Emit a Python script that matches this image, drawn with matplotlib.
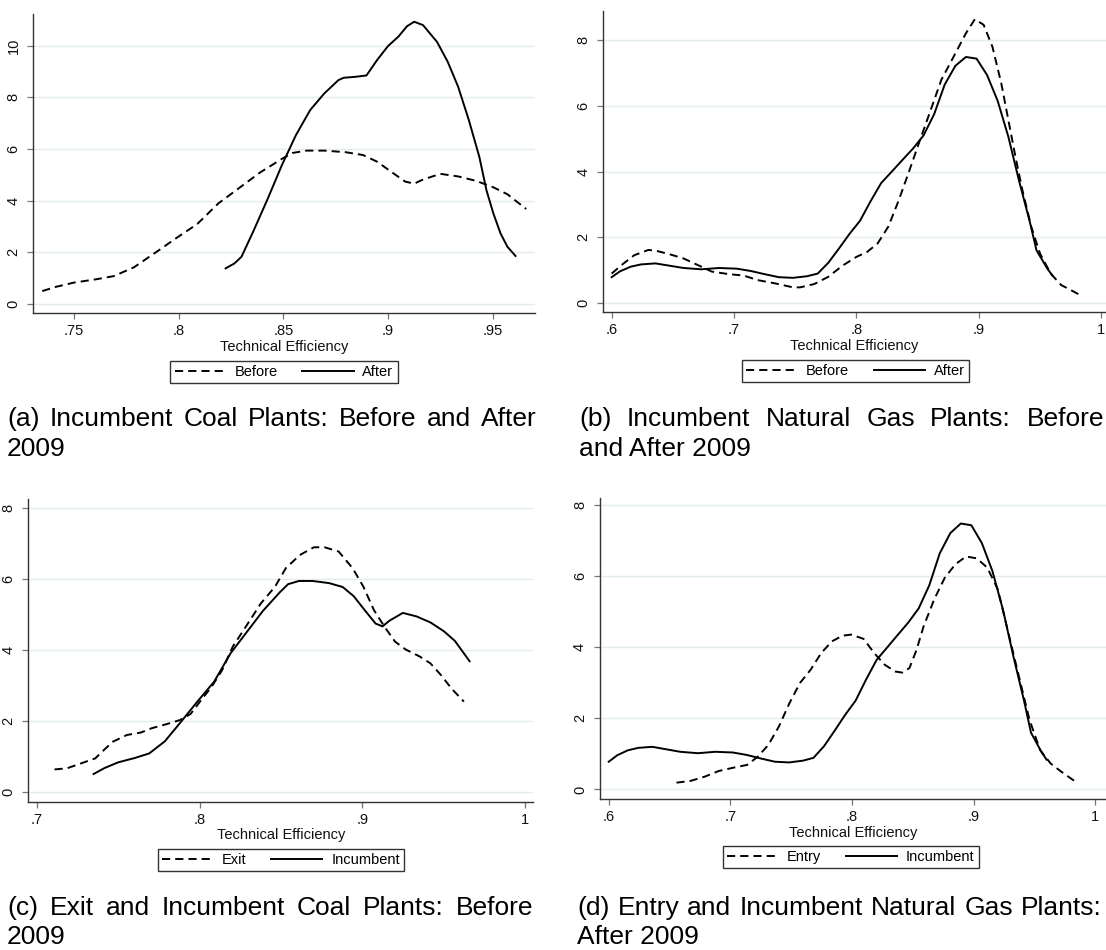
import matplotlib
matplotlib.use("Agg")
import matplotlib.pyplot as plt
from matplotlib.lines import Line2D

plt.rcParams['font.family'] = ['Liberation Sans', 'DejaVu Sans']

# ---------------- data ----------------
# Incumbent coal plants before 2009 (panel a "Before", panel c "Incumbent")
coal_inc_before_x = [0.7348, 0.7416, 0.750, 0.760, 0.769, 0.7786, 0.7887, 0.7988, 0.8089, 0.819,
                     0.829, 0.839, 0.8493, 0.8544, 0.8611, 0.8695, 0.8796, 0.888, 0.8948, 0.9015,
                     0.9082, 0.9125, 0.9167, 0.925, 0.9335, 0.942, 0.9503, 0.957, 0.9660]
coal_inc_before_y = [0.50, 0.67, 0.83, 0.95, 1.08, 1.42, 1.98, 2.55, 3.10, 3.90,
                     4.50, 5.10, 5.62, 5.85, 5.94, 5.94, 5.88, 5.77, 5.51, 5.12,
                     4.74, 4.66, 4.82, 5.04, 4.94, 4.77, 4.52, 4.25, 3.68]
# Incumbent coal plants after 2009 (panel a "After")
coal_after_x = [0.8224, 0.8266, 0.830, 0.8359, 0.8426, 0.8493, 0.856, 0.8628, 0.8695, 0.8763,
                0.8788, 0.8847, 0.8897, 0.8948, 0.900, 0.9049, 0.9091, 0.9125, 0.9167, 0.9234,
                0.9285, 0.9335, 0.9386, 0.9436, 0.947, 0.9503, 0.9537, 0.957, 0.9609]
coal_after_y = [1.38, 1.57, 1.83, 2.86, 4.09, 5.38, 6.54, 7.51, 8.15, 8.67,
                8.76, 8.80, 8.85, 9.45, 9.99, 10.35, 10.76, 10.93, 10.80, 10.15,
                9.38, 8.41, 7.12, 5.70, 4.41, 3.51, 2.74, 2.22, 1.86]
# Incumbent natural gas plants before 2009 (panel b "Before")
gas_before_x = [0.600, 0.6098, 0.6185, 0.630, 0.6358, 0.6473, 0.6588, 0.6704, 0.6819, 0.6963,
                0.7079, 0.7194, 0.7338, 0.7482, 0.754, 0.7655, 0.777, 0.7886, 0.8001, 0.8088,
                0.8174, 0.8261, 0.8347, 0.8434, 0.852, 0.8607, 0.8694, 0.8809, 0.8895, 0.8968,
                0.904, 0.9112, 0.9184, 0.9242, 0.930, 0.9357, 0.9429, 0.9501, 0.9588, 0.9674,
                0.9761, 0.9847]
gas_before_y = [0.89, 1.20, 1.45, 1.61, 1.59, 1.48, 1.35, 1.15, 0.95, 0.87,
                0.83, 0.69, 0.59, 0.47, 0.47, 0.57, 0.79, 1.13, 1.40, 1.55,
                1.81, 2.32, 3.13, 4.04, 4.96, 5.87, 6.79, 7.60, 8.21, 8.64,
                8.47, 7.80, 6.69, 5.57, 4.45, 3.43, 2.32, 1.50, 0.89, 0.54,
                0.37, 0.20]
# Incumbent natural gas plants after 2009 (panel b "After", panel d "Incumbent")
gas_inc_after_x = [0.600, 0.6069, 0.6156, 0.6242, 0.6358, 0.6473, 0.6588, 0.6733, 0.6877, 0.7021,
                   0.7136, 0.7252, 0.7367, 0.7482, 0.7598, 0.7684, 0.7771, 0.7857, 0.7944, 0.803,
                   0.8117, 0.8203, 0.829, 0.8376, 0.8463, 0.8549, 0.8636, 0.8722, 0.8809, 0.8895,
                   0.8982, 0.9068, 0.9155, 0.9242, 0.9328, 0.9415, 0.9472, 0.9559, 0.9600]
gas_inc_after_y = [0.78, 0.96, 1.10, 1.17, 1.20, 1.13, 1.06, 1.02, 1.06, 1.04,
                   0.97, 0.87, 0.78, 0.76, 0.81, 0.89, 1.22, 1.65, 2.10, 2.50,
                   3.10, 3.65, 4.00, 4.35, 4.70, 5.10, 5.75, 6.65, 7.22, 7.49,
                   7.44, 6.94, 6.15, 5.06, 3.74, 2.50, 1.60, 1.05, 0.84]
# Exit coal plants before 2009 (panel c "Exit")
coal_exit_x = [0.7108, 0.7184, 0.7271, 0.7358, 0.7401, 0.7466, 0.7553, 0.764, 0.7705, 0.7792,
               0.7879, 0.7944, 0.8009, 0.8074, 0.8139, 0.8204, 0.8291, 0.8377, 0.8464, 0.853,
               0.8616, 0.8703, 0.8768, 0.8855, 0.8941, 0.9007, 0.9072, 0.9137, 0.9202, 0.9267,
               0.9354, 0.9419, 0.9484, 0.9549, 0.9625]
coal_exit_y = [0.63, 0.66, 0.80, 0.94, 1.13, 1.41, 1.60, 1.67, 1.79, 1.90,
               2.02, 2.19, 2.58, 2.96, 3.43, 4.09, 4.70, 5.31, 5.78, 6.30,
               6.67, 6.89, 6.89, 6.77, 6.30, 5.78, 5.12, 4.65, 4.23, 4.01,
               3.81, 3.62, 3.29, 2.91, 2.54]
# Entry natural gas plants after 2009 (panel d "Entry")
gas_entry_x = [0.6557, 0.6673, 0.679, 0.6906, 0.7022, 0.7138, 0.7225, 0.7312, 0.7399, 0.7486,
               0.7573, 0.766, 0.7747, 0.7835, 0.7922, 0.7994, 0.8096, 0.8183, 0.827, 0.8357,
               0.8415, 0.8473, 0.8531, 0.8589, 0.8676, 0.8763, 0.885, 0.8938, 0.9025, 0.9112,
               0.9199, 0.9286, 0.9373, 0.946, 0.9547, 0.9634, 0.9721, 0.9837]
gas_entry_y = [0.19, 0.24, 0.36, 0.52, 0.61, 0.69, 0.92, 1.25, 1.77, 2.43,
               3.00, 3.37, 3.84, 4.17, 4.33, 4.36, 4.24, 3.84, 3.51, 3.32,
               3.29, 3.42, 3.93, 4.59, 5.35, 5.96, 6.34, 6.56, 6.51, 6.25,
               5.64, 4.41, 3.18, 1.96, 1.11, 0.73, 0.50, 0.22]

xlabel_text = "Technical Efficiency"
xticks_a = [0.75, 0.80, 0.85, 0.90, 0.95]
xticklabels_a = [".75", ".8", ".85", ".9", ".95"]
xticks_b = [0.6, 0.7, 0.8, 0.9, 1.0]
xticklabels_b = [".6", ".7", ".8", ".9", "1"]
xticks_c = [0.7, 0.8, 0.9, 1.0]
xticklabels_c = [".7", ".8", ".9", "1"]
yticks_a = [0, 2, 4, 6, 8, 10]
yticks_b = [0, 2, 4, 6, 8]

legend_a = ["Before", "After"]
legend_c = ["Exit", "Incumbent"]
legend_d = ["Entry", "Incumbent"]

caption_a = ["(a) Incumbent Coal Plants: Before and After", "2009"]
caption_b = ["(b) Incumbent Natural Gas Plants:  Before", "and After 2009"]
caption_c = ["(c) Exit and Incumbent Coal Plants: Before", "2009"]
caption_d = ["(d) Entry and Incumbent Natural Gas Plants:", "After 2009"]

# ---------------- layout ----------------
W, H = 1106, 950
fig = plt.figure(figsize=(W / 100, H / 100), dpi=100)


def px_axes(left, right, top, bottom):
    return fig.add_axes([left / W, 1 - bottom / H, (right - left) / W, (bottom - top) / H])


DASH = (0, (4.2, 2.6))
LW = 1.4
GRID = '#e4edee'


def style(ax, xlim, ylim, xt, xtl, yt):
    ax.set_xlim(*xlim)
    ax.set_ylim(*ylim)
    ax.set_xticks(xt)
    ax.set_xticklabels(xtl)
    ax.set_yticks(yt)
    ax.set_yticklabels([str(v) for v in yt])
    for s in ['top', 'right']:
        ax.spines[s].set_visible(False)
    for s in ['left', 'bottom']:
        ax.spines[s].set_color('#333333')
        ax.spines[s].set_linewidth(1.0)
    ax.tick_params(axis='both', direction='out', length=4, width=0.9, color='#777777',
                   labelsize=10.5, labelcolor='#111111')
    ax.tick_params(axis='x', pad=4.0)
    ax.tick_params(axis='y', pad=5, labelrotation=90)
    for lbl in ax.get_yticklabels():
        lbl.set_va('center')
    ax.grid(axis='y', color=GRID, linewidth=1.0)
    ax.set_axisbelow(True)
    ax.set_xlabel(xlabel_text, fontsize=10.5, labelpad=1.0, color='#111111')


def add_legend(labels, cx, cy):
    handles = [Line2D([], [], color='black', lw=LW, linestyle=DASH),
               Line2D([], [], color='black', lw=LW, linestyle='-')]
    leg = fig.legend(handles, labels, loc='center', bbox_to_anchor=(cx / W, 1 - cy / H),
                     ncol=2, fontsize=10.5, frameon=True, fancybox=False, shadow=False,
                     handlelength=3.5, handletextpad=0.6, columnspacing=1.7,
                     borderpad=0.3, borderaxespad=0)
    fr = leg.get_frame()
    fr.set_edgecolor('#333333')
    fr.set_linewidth(1.0)
    fr.set_alpha(1)
    return leg


# Panel (a)
ax_a = px_axes(33, 535, 14, 313.3)
ax_a.plot(coal_inc_before_x, coal_inc_before_y, color='black', lw=LW, linestyle=DASH)
ax_a.plot(coal_after_x, coal_after_y, color='black', lw=LW)
style(ax_a, (0.7304, 0.9702), (-0.36, 11.23), xticks_a, xticklabels_a, yticks_a)
add_legend(legend_a, 284, 372)

# Panel (b)
ax_b = px_axes(602.7, 1106, 10.7, 312.3)
ax_b.plot(gas_before_x, gas_before_y, color='black', lw=LW, linestyle=DASH)
ax_b.plot(gas_inc_after_x, gas_inc_after_y, color='black', lw=LW)
style(ax_b, (0.5927, 1.004), (-0.29, 8.9), xticks_b, xticklabels_b, yticks_b)
add_legend(legend_a, 855.5, 371)

# Panel (c)
ax_c = px_axes(28.2, 533.3, 499, 801.7)
ax_c.plot(coal_exit_x, coal_exit_y, color='black', lw=LW, linestyle=DASH)
ax_c.plot(coal_inc_before_x, coal_inc_before_y, color='black', lw=LW)
style(ax_c, (0.6946, 1.0052), (-0.28, 8.25), xticks_c, xticklabels_c, yticks_b)
add_legend(legend_c, 281, 860)

# Panel (d)
ax_d = px_axes(599.6, 1106, 498.3, 799)
ax_d.plot(gas_entry_x, gas_entry_y, color='black', lw=LW, linestyle=DASH)
ax_d.plot(gas_inc_after_x, gas_inc_after_y, color='black', lw=LW)
style(ax_d, (0.5925, 1.0089), (-0.27, 8.2), xticks_b, xticklabels_b, yticks_b)
add_legend(legend_d, 851, 857)

# ---------------- captions (justified first line) ----------------
CAP_SIZE = 19
renderer = fig.canvas.get_renderer()


def justified(line, x0, x1, ybase):
    words = line.split()
    texts = [fig.text(0, 1 - ybase / H, w, fontsize=CAP_SIZE, ha='left', va='baseline', color='black')
             for w in words]
    widths = [t.get_window_extent(renderer).width for t in texts]
    gap = (x1 - x0 - sum(widths)) / max(len(words) - 1, 1)
    x = x0
    for t, w in zip(texts, widths):
        t.set_x(x / W)
        x += w + gap


def plain(line, x0, ybase):
    fig.text(x0 / W, 1 - ybase / H, line, fontsize=CAP_SIZE, ha='left', va='baseline', color='black')


justified(caption_a[0], 7, 537, 426)
plain(caption_a[1], 7, 456.5)
justified(caption_b[0], 579, 1104, 426)
plain(caption_b[1], 579, 456.5)
justified(caption_c[0], 7, 533, 915)
plain(caption_c[1], 7, 943.5)
justified(caption_d[0], 577, 1102, 915)
plain(caption_d[1], 577, 943.5)

fig.savefig("out.png", dpi=100, facecolor='white')
